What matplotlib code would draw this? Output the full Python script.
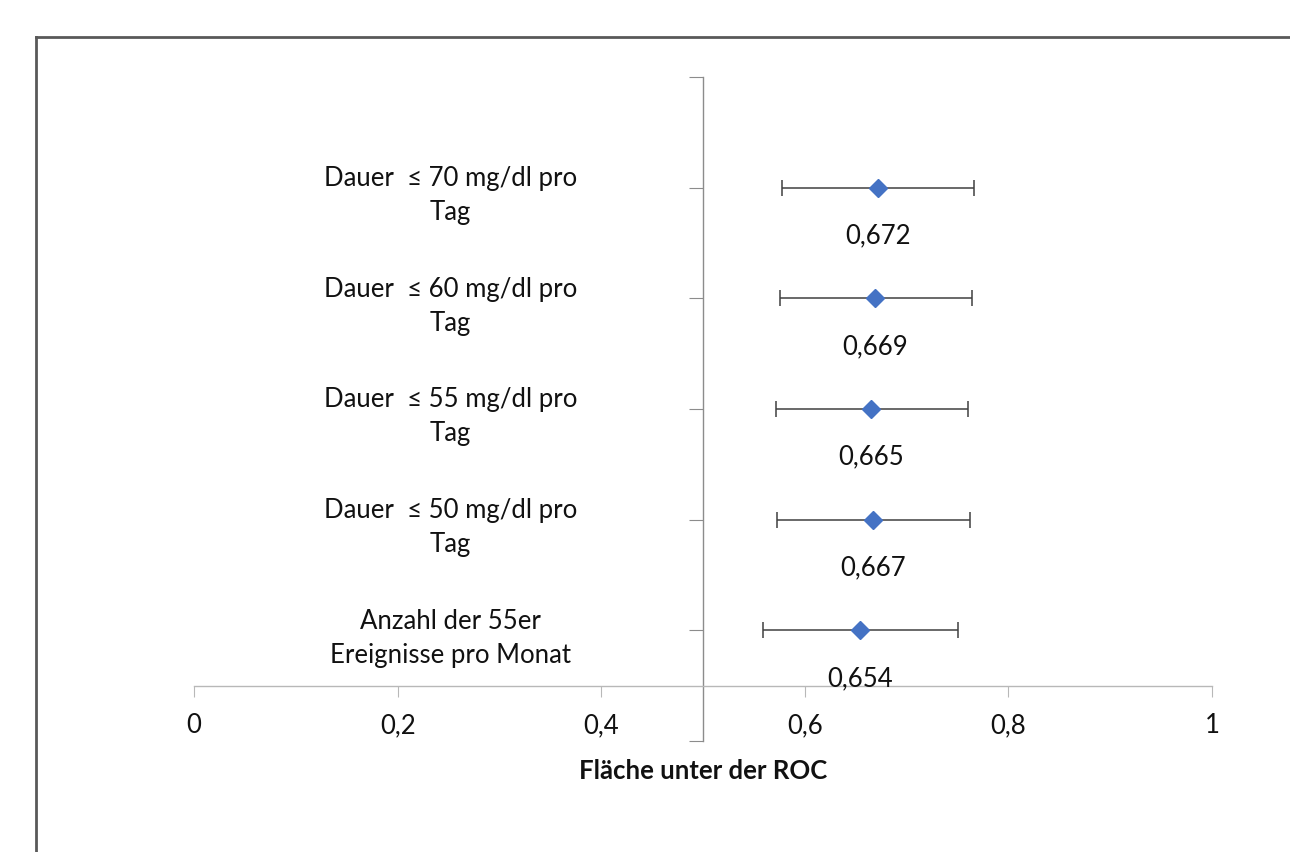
import matplotlib
matplotlib.use("Agg")
import matplotlib.pyplot as plt
from matplotlib.lines import Line2D

plt.rcParams['font.family'] = ['Lato', 'DejaVu Sans']

# Data (top to bottom in the chart)
labels = [
    "Dauer  ≤ 70 mg/dl pro\nTag",
    "Dauer  ≤ 60 mg/dl pro\nTag",
    "Dauer  ≤ 55 mg/dl pro\nTag",
    "Dauer  ≤ 50 mg/dl pro\nTag",
    "Anzahl der 55er\nEreignisse pro Monat",
]
auc = [0.672, 0.669, 0.665, 0.667, 0.654]
ci_low = [0.578, 0.576, 0.572, 0.573, 0.559]
ci_high = [0.766, 0.764, 0.760, 0.762, 0.750]
y_pos = [5, 4, 3, 2, 1]

x_ticks = [0, 0.2, 0.4, 0.6, 0.8, 1.0]
x_ticklabels = ["0", "0,2", "0,4", "0,6", "0,8", "1"]

W, H = 1290, 853
fig = plt.figure(figsize=(W / 100, H / 100), dpi=100)
ax = fig.add_axes([194 / W, 1 - 742 / H, (1212 - 194) / W, (742 - 78) / H])

xerr = [[a - lo for a, lo in zip(auc, ci_low)],
        [hi - a for a, hi in zip(auc, ci_high)]]
ax.errorbar(auc, y_pos, xerr=xerr, fmt='none', ecolor='#404040',
            elinewidth=1.1, capsize=6, capthick=1.1, zorder=2)
ax.plot(auc, y_pos, linestyle='none', marker='D', markersize=9.5,
        color='#4472C4', zorder=3)

for a, y in zip(auc, y_pos):
    ax.annotate(f"{a:.3f}".replace(".", ","), (a, y), xytext=(0, -34),
                textcoords='offset points', ha='center', va='center',
                fontsize=18.5, color='#111111')

ax.set_xlim(0, 1)
ax.set_ylim(0, 6)

for side in ['top', 'right']:
    ax.spines[side].set_visible(False)
ax.spines['left'].set_position(('data', 0.5))
ax.spines['bottom'].set_position(('data', 0.5))
ax.spines['left'].set_color('#8c8c8c')
ax.spines['bottom'].set_color('#b8b8b8')
ax.spines['left'].set_linewidth(1)
ax.spines['bottom'].set_linewidth(1)

ax.set_xticks(x_ticks)
ax.set_xticklabels(x_ticklabels)
ax.tick_params(axis='x', direction='out', length=8, color='#b8b8b8',
               labelsize=18.5, pad=11, labelcolor='#111111')

ax.set_yticks(range(0, 7))
ax.set_yticklabels([""] + labels[::-1] + [""])
ax.tick_params(axis='y', direction='out', length=10, color='#8c8c8c',
               labelsize=18.5, pad=172, labelcolor='#111111')
for t in ax.get_yticklabels():
    t.set_ha('center')
    t.set_multialignment('center')
    t.set_linespacing(1.45)

ax.text(0.5, 0.5 - 0.76, "Fläche unter der ROC", ha='center', va='center',
        fontsize=18.5, fontweight='bold', color='#111111', transform=ax.transData)

# outer chart frame
fy = 1 - 38 / H
fx = 36 / W
fig.add_artist(Line2D([fx, 1], [fy, fy], color='#595959', lw=2))
fig.add_artist(Line2D([fx, fx], [0, fy], color='#595959', lw=2))

fig.savefig("out.png", dpi=100, facecolor='white')
